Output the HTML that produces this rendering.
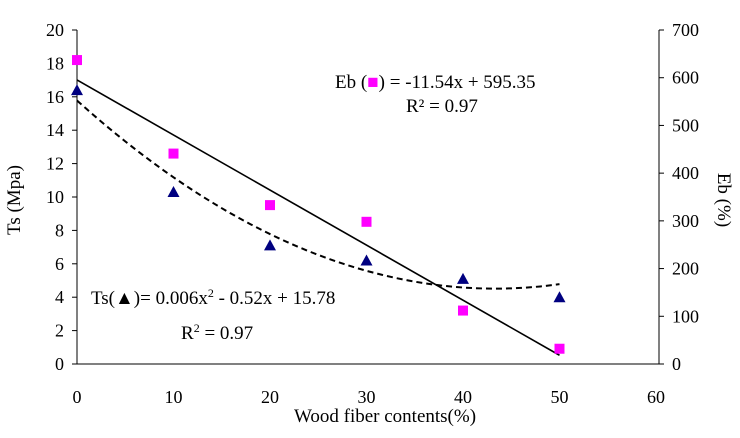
<!DOCTYPE html>
<html><head><meta charset="utf-8"><style>
body{margin:0;background:#fff}
svg text{font-family:"Liberation Serif",serif;fill:#000}
</style></head><body>
<svg id="c" width="740" height="433"></svg>
<script>
const xTicks=[0,10,20,30,40,50,60];
const yTicks=[0,2,4,6,8,10,12,14,16,18,20];
const y2Ticks=[0,100,200,300,400,500,600,700];
const xCats=[0,10,20,30,40,50];
const tsVals=[16.4,10.3,7.1,6.2,5.1,4.0];
const ebVals=[637,441,333,298,112,32];
const ebFit=[-11.54,595.35];
const tsFit=[0.006,-0.52,15.78];
const NS="http://www.w3.org/2000/svg";
const svg=document.getElementById('c');
const X=v=>77+v*(656-77)/60;
const Y=v=>364-v*(364-30)/20;
const Y2=v=>364-v*(364-30)/700;
function mk(t,a,txt){const e=document.createElementNS(NS,t);for(const k in a)e.setAttribute(k,a[k]);if(txt!==undefined)e.textContent=txt;svg.appendChild(e);return e;}
let e;
e=mk('line',{x1:77,y1:30,x2:77,y2:364,stroke:'#000','stroke-width':1});

e=mk('line',{x1:659,y1:30,x2:659,y2:364,stroke:'#000','stroke-width':1});

e=mk('line',{x1:77,y1:364,x2:659,y2:364,stroke:'#000','stroke-width':1});

yTicks.forEach(v=>{mk('line',{x1:72,y1:Y(v),x2:77,y2:Y(v),stroke:'#000'});
 e=mk('text',{x:64,y:Y(v)+6,'text-anchor':'end','font-size':18},v);
 });
y2Ticks.forEach(v=>{mk('line',{x1:659,y1:Y2(v),x2:664,y2:Y2(v),stroke:'#000'});
 e=mk('text',{x:672,y:Y2(v)+6,'font-size':18},v);
 });
xTicks.forEach(v=>{e=mk('text',{x:X(v),y:403,'text-anchor':'middle','font-size':18},v);
 });
e=mk('line',{x1:X(0),y1:Y2(ebFit[1]),x2:X(50),y2:Y2(ebFit[0]*50+ebFit[1]),stroke:'#000','stroke-width':1.6});

let d='';for(let x=0;x<=50;x+=1){const v=tsFit[0]*x*x+tsFit[1]*x+tsFit[2];d+=(x?'L':'M')+X(x)+' '+Y(v);}
e=mk('path',{d:d,fill:'none',stroke:'#000','stroke-width':2,'stroke-dasharray':'6,4'});

xCats.forEach((c,i)=>{
 e=mk('rect',{x:X(c)-5,y:Y2(ebVals[i])-5,width:10,height:10,fill:'#ff00ff'});
 
 const cx=X(c),cy=Y(tsVals[i]);
 e=mk('polygon',{points:`${cx},${cy-6} ${cx-6},${cy+5} ${cx+6},${cy+5}`,fill:'#000080'});
 
});
</script>
<svg width="740" height="433" style="position:absolute;left:0;top:0">
<text x="335" y="88" font-size="19">Eb (<tspan fill="#ff00ff">■</tspan>) = -11.54x + 595.35</text>
<text x="406" y="112" font-size="19">R² = 0.97</text>
<text x="91" y="304" font-size="19">Ts(▲)= 0.006x<tspan dy="-7" font-size="12">2</tspan><tspan dy="7"> - 0.52x + 15.78</tspan></text>
<text x="181" y="339" font-size="19">R<tspan dy="-7" font-size="12">2</tspan><tspan dy="7"> = 0.97</tspan></text>
<text x="385" y="422" font-size="19" text-anchor="middle">Wood fiber contents(%)</text>
<text transform="translate(20,200) rotate(-90)" font-size="19" text-anchor="middle">Ts (Mpa)</text>
<text transform="translate(718,200) rotate(90)" font-size="19" text-anchor="middle">Eb (%)</text>
</svg>
</body></html>
